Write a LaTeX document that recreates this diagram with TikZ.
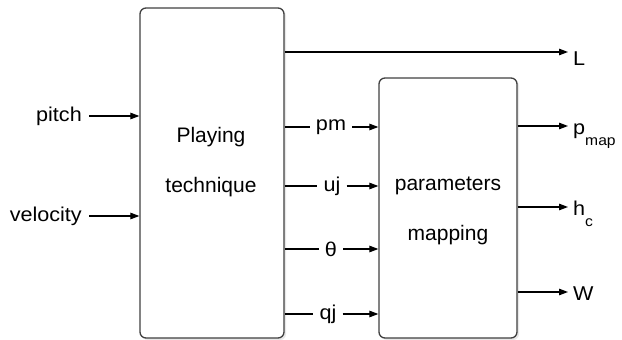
\documentclass[tikz,border=0pt]{standalone}
\usepackage{fontspec}
\setmainfont{Liberation Sans}
\newfontfamily\widesans[FakeStretch=1.08]{Liberation Sans}
\usetikzlibrary{arrows.meta,shadows}
\newcommand{\lowsub}[1]{\raisebox{-11pt}{\fontsize{14.5}{14}\selectfont #1}}
\begin{document}
\begin{tikzpicture}[x=1pt,y=-1pt,
  block/.style={draw=black!75, line width=1.3pt, fill=white, rounded corners=6pt,
    drop shadow={shadow xshift=2pt, shadow yshift=-2pt, opacity=0.18}},
  boxtext/.style={align=center, font=\fontsize{21}{50}\selectfont, inner sep=0pt},
  lab/.style={font=\widesans\fontsize{20}{22}\selectfont, inner sep=0pt},
  wire/.style={line width=1.2pt, black},
  arr/.style={wire, -{Triangle[length=9pt,width=6.5pt]}}]
\useasboundingbox (0,0) rectangle (622,340);

% processing blocks
\node[block, minimum width=144, minimum height=330] (pt) at (212,173) {};
\node[block, minimum width=138, minimum height=260] (pmb) at (448,208) {};
\node[boxtext] (ptt) at (211,162) {Playing\\technique};
\node[boxtext] (pmbt) at (448,211) {parameters\\mapping};

% inputs
\node[lab, anchor=east] (pitch) at (82,116) {pitch};
\node[lab, anchor=east] (vel) at (82,216) {velocity};
\draw[arr] ([xshift=7pt]pitch.east) -- (pitch -| pt.west);
\draw[arr] ([xshift=7pt]vel.east) -- (vel -| pt.west);

% intermediate signals
\node[lab] (pm) at (331,127) {pm};
\node[lab] (uj) at (332,186) {uj};
\node[lab] (th) at (331,249) {θ};
\node[lab] (qj) at (328,314) {qj};
\foreach \s in {pm,uj,th,qj}{
  \draw[wire] (pt.east |- \s) -- ([xshift=-6pt]\s.west);
  \draw[arr] ([xshift=6pt]\s.east) -- (\s -| pmb.west);
}

% outputs
\coordinate (lsrc) at (284,52);
\node[lab, anchor=west] (L) at (573,59) {L};
\draw[arr] (pt.east |- lsrc) -- (568,52);
\node[lab, anchor=base west] (pmap) at (573,134) {p\lowsub{map}};
\node[lab, anchor=base west] (hc) at (573,215) {h\lowsub{c}};
\node[lab, anchor=base west] (W) at (573,300) {W};
\draw[arr] (pmb.east |- 0,126) -- (568,126);
\draw[arr] (pmb.east |- 0,207) -- (568,207);
\draw[arr] (pmb.east |- 0,292) -- (568,292);
\end{tikzpicture}
\end{document}
